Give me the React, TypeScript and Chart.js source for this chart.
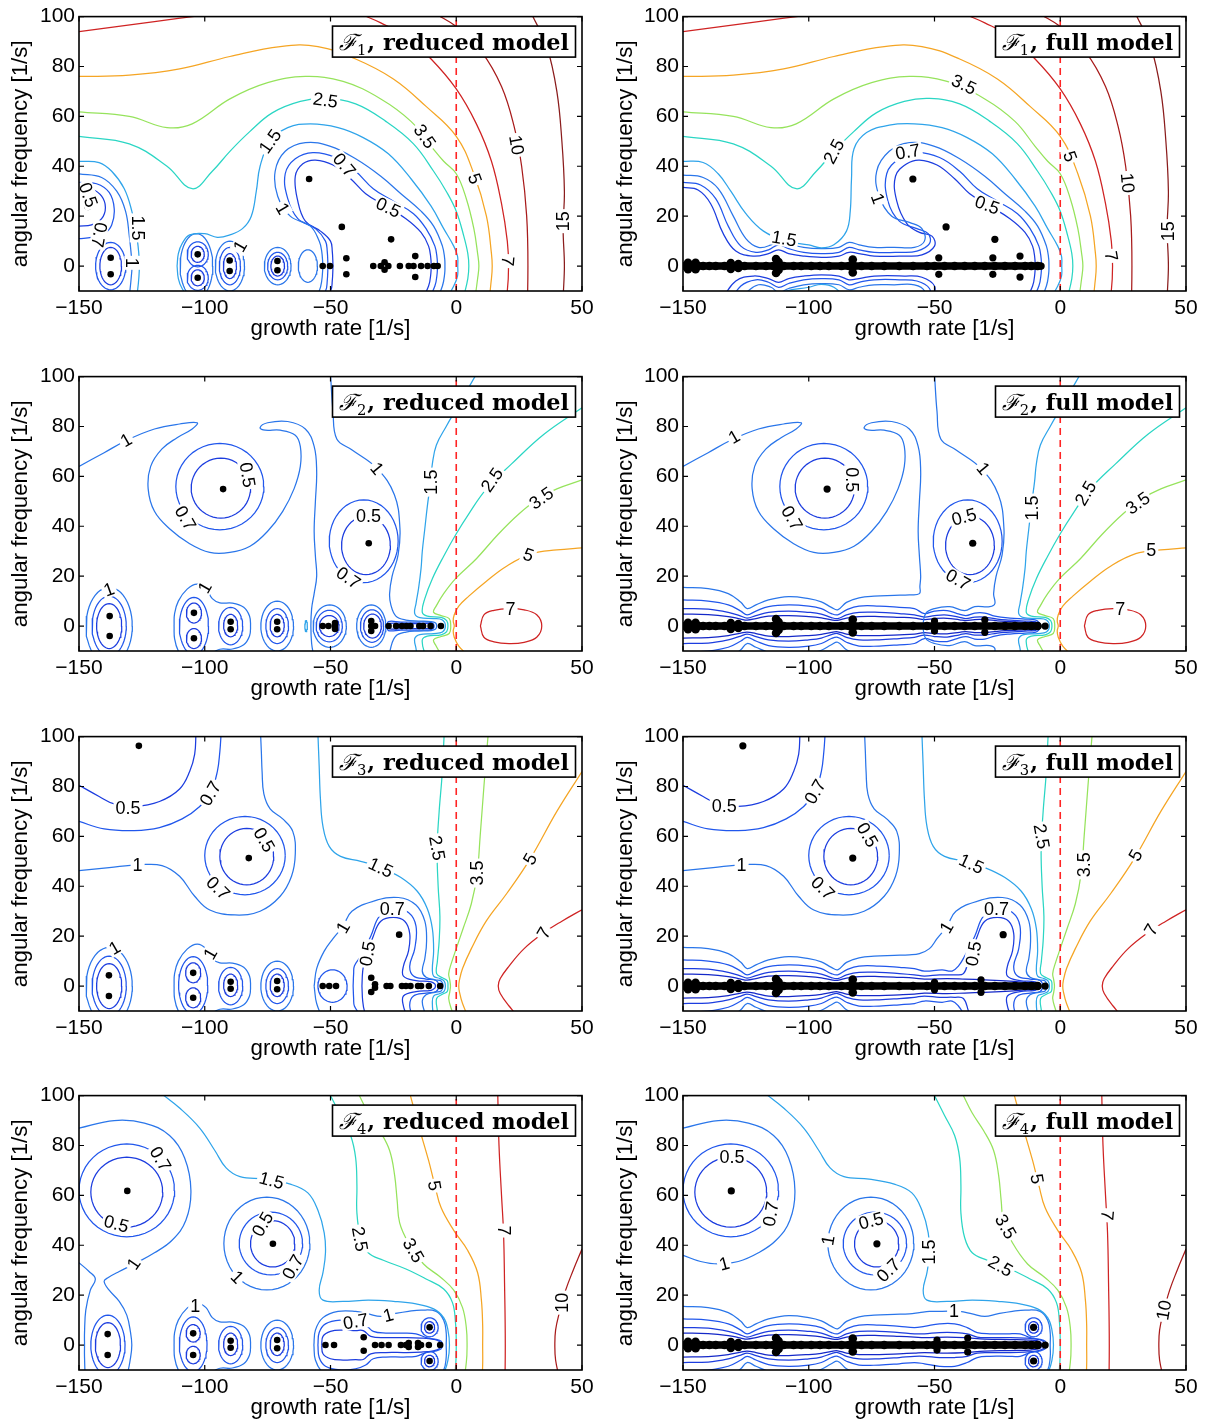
import React, { useEffect, useRef } from "react";
import { Chart, registerables } from "chart.js";
Chart.register(...registerables);

// ---------- axes ----------
const X_TICKS = [-150, -100, -50, 0, 50];
const Y_TICKS = [0, 20, 40, 60, 80, 100];
const X_MIN = -150, X_MAX = 50, Y_MIN = -10, Y_MAX = 100;
const X_TITLE = "growth rate [1/s]";
const Y_TITLE = "angular frequency [1/s]";

// ---------- contour levels ----------
const LEVEL_VALUES = [0.35, 0.5, 0.7, 1, 1.5, 2.5, 3.5, 5, 7, 10, 15];
const LEVEL_COLORS = ["#1428c8", "#1c3ddf", "#2157ec", "#2a76ea", "#2fa4ea", "#2bd6c4", "#96e35c", "#f5a524", "#cf2323", "#a81b1b", "#8a1c1c"];

// line: [level, flat x,y list, symmetry flag (0 none, 1 + mirrored return, 2 + mirror copy, 3 mirror only)]
// oval: [level, cx, cy, rx, ry]   label: [text, x, y, angle]

// ================= F1 =================
const F1_OUTER = [
  [7, [-150, 94, -135, 96, -120, 98, -101, 100.5], 0],
  [7, [-38, 101, -30, 97.5, -20, 92, -10, 83, 0, 71, 8, 57, 14, 42, 18, 25, 20.3, 10, 20.8, 0], 1],
  [10, [-8, 101, 0, 96, 10, 86, 18, 72, 23, 56, 26, 40, 28, 20, 28.5, 0], 1],
  [15, [30, 101, 36, 88, 40, 70, 42, 50, 43, 30, 42.5, 15, 43, 0], 1],
  [5, [-150, 76, -130, 76.5, -110, 79, -90, 84, -70, 88, -55, 88, -40, 83, -25, 75, -12, 64, 0, 52, 7, 37, 12, 20, 14, 5, 14.3, 0], 1],
  [3.5, [-150, 61.8, -130, 60, -115, 55.5, -105, 57, -90, 67, -75, 73.5, -60, 76, -45, 74, -30, 67, -18, 58, -10, 48, -5, 42, 0, 37, 4, 27, 7, 15, 8.5, 5, 9, 0], 1],
  [2.5, [-150, 52, -130, 49, -115, 40, -105, 31, -97, 38, -90, 46, -82, 54, -73, 61.5, -62, 66, -52, 67.2, -40, 65, -28, 58, -17, 49, -9, 38, -4, 30, 0, 22, 3, 12, 4.6, 5, 5, 0], 1],
];
const F1R_LINES = [
  [1.5, [-150, 42, -142, 41.5, -137, 38, -132, 31, -129, 22, -127, 12, -126, 0], 1],
  [1.5, [-111, 0, -110.5, 5, -109, 9, -106, 12.5, -100, 13, -95, 11.5, -90, 12.5, -85, 15, -81.5, 20, -79.5, 30, -78, 40, -74, 50, -67, 55.5, -58, 57, -47, 55.5, -37, 51.5, -27, 45, -18, 35, -10, 24, -5, 15, -1, 8, 0.5, 4, 0.6, 0], 1],
  [1, [-150, 37, -141, 35.5, -135, 30, -131.5, 22, -130, 12, -129, 2, -129, 0], 1],
  [0.7, [-150, 33.5, -143, 33, -138, 29.5, -136, 23, -137, 16.5, -140, 13, -145, 11.5, -150, 11], 0],
  [0.5, [-150, 31.5, -145, 31, -141, 28, -139.5, 23.5, -141, 19, -145, 16.5, -150, 16], 0],
  [1, [-53, 0, -53.5, 6, -54.5, 10, -58, 16, -66, 20, -71, 28, -72, 38, -68, 46, -60, 49.5, -50, 48, -40, 43, -30, 36, -22, 29, -14, 22, -9, 16, -5.5, 8, -4.6, 3, -4.5, 0], 1],
  [0.7, [-51, 0, -51.3, 6, -52, 10, -56, 15, -63, 19, -67, 27, -68, 37, -64, 43, -57, 45.5, -48, 43.5, -40, 38, -33, 31, -25, 26, -17, 21, -12, 15, -8.5, 8, -7.6, 3, -7.5, 0], 1],
  [0.5, [-49, 0, -49.3, 6, -50, 10, -54, 14, -60, 18, -63, 26, -64, 36, -61, 41, -56, 42.5, -49, 40.5, -42, 35, -36, 29, -28, 24, -20, 19, -14, 13.5, -11, 8, -10.1, 3, -10, 0], 1],
];
const F1R_OVALS = [
  [0.7, -137.4, 0, 6, 9.5], [0.5, -137.4, 0, 4.3, 7.5],
  [0.5, -102.8, 4.7, 2.6, 3.2], [0.5, -102.8, -4.7, 2.6, 3.2], [0.7, -102.8, 4.7, 4.2, 5], [0.7, -102.8, -4.7, 4.2, 5], [1, -103.3, 0, 6.5, 13],
  [1, -90, 0, 5.8, 10], [0.7, -90, 0, 4.2, 7.5], [0.5, -90, 0, 2.6, 5],
  [1, -71, 0, 5.3, 7.5], [0.7, -71, 0, 4, 5.5], [0.5, -71, 0, 2.7, 4],
  [1, -59, 0, 3.8, 6.5],
];
const F1R_LABELS = [
  ["2.5", -52, 66.5, 8], ["3.5", -12.5, 52, 55], ["5", 7.4, 35, 70], ["7", 20.5, 2, 95], ["10", 24, 48.5, 80], ["15", 42.6, 18, -90],
  ["1.5", -74, 50, -55], ["0.7", -44.5, 40.5, 50], ["0.5", -27, 23.5, 25], ["1", -69, 23, 60],
  ["0.5", -146.3, 28.5, 70], ["0.7", -142, 12.5, 100], ["1.5", -126.7, 15.3, 90], ["1", -128.8, 1.3, 90], ["1", -86, 8, -60],
];
const F1R_DOTS = [-146.5, 23.7, -137.4, 3.3, -137.4, -3.3, -102.8, 4.7, -102.8, -4.7, -90.1, 2.2, -90.1, -2, -71.1, 2, -71.1, -1.7,
  -58.5, 34.9, -45.5, 15.7, -43.7, 3.1, -43.7, -3.3, -25.9, 10.7, -16.3, 4, -16.3, -4.4,
  -53.1, 0, -50.2, 0, -33, 0, -30, 0, -28.5, 1.5, -28.5, -1.5, -27, 0, -22.4, 0, -18.9, 0, -17, 0, -14, 0, -11.4, 0, -8.9, 0, -7.4, 0];

const F1F_LINES = [
  [1.5, [-150, 42, -142, 41.5, -136, 37, -131, 30, -125, 21, -118, 14, -109, 10, -100, 8.5, -95, 7.3, -90, 8.5, -85, 14, -83.5, 22, -83, 35, -82, 47, -77, 53.5, -68, 56.5, -58, 57, -47, 55.5, -37, 51.5, -27, 45, -18, 35, -10, 24, -5, 15, -1, 8, 0.5, 4, 0.6, 0], 1],
  [1, [-150, 36.5, -142, 35.5, -136, 31, -130, 20, -125, 11, -120, 7.5, -115, 8.5, -112, 10.5, -108, 9, -102, 7.5, -95, 7, -88, 7.5, -84, 9.5, -80, 8.5, -74, 7.5, -66, 7.5, -58, 7.5, -54, 10, -55, 15, -60, 17.5, -67, 20, -72, 28, -73, 38, -68, 46, -60, 49.5, -50, 48, -40, 43, -30, 36, -22, 29, -14, 22, -9, 16, -5.5, 8, -4.6, 3, -4.5, 0], 1],
  [0.7, [-150, 33.5, -143, 32.5, -137, 27, -132, 16, -127, 8, -121, 5.5, -116, 6.5, -112, 8.5, -108, 7, -102, 5.5, -95, 5, -88, 5.5, -84, 7.5, -80, 6.5, -74, 5.5, -64, 5.5, -57, 6, -52, 9, -52.5, 13, -57, 15, -64, 18, -68.5, 26, -69, 37, -64, 43, -57, 45.5, -48, 43.5, -40, 38, -33, 31, -25, 26, -17, 21, -12, 15, -8.5, 8, -7.6, 3, -7.5, 0], 1],
  [0.5, [-150, 31.5, -144, 30.5, -139, 25, -134, 13, -129, 6, -122, 4, -116, 5, -112, 6.5, -108, 5, -102, 4, -95, 3.5, -88, 4, -84, 5.5, -80, 5, -74, 4, -62, 4, -55, 4.5, -50, 8, -51, 12, -56, 13.5, -61, 17, -65, 26, -65.5, 36, -61, 41, -56, 42.5, -49, 40.5, -42, 35, -36, 29, -28, 24, -20, 19, -14, 13.5, -11, 8, -10.1, 3, -10, 0], 1],
];
const F1F_LABELS = [
  ["3.5", -38.3, 72.8, 25], ["2.5", -90, 46, -62], ["5", 3.9, 44, 70], ["10", 26.8, 33.3, 85], ["15", 43, 14, -90], ["7", 20.3, 4, 80],
  ["0.7", -60.6, 45.8, -10], ["1", -72.5, 27, 70], ["0.5", -29, 24.5, 20], ["1.5", -109.8, 11, 10],
];
const F1F_DOTS = [-58.6, 34.9, -45.4, 15.7, -48.3, 3.3, -48.3, -3.3, -26, 10.7, -26.8, 3.3, -26.8, -3.3, -16, 4, -16, -4.4, -7.6, 0];

// ================= full-model band (shared by F2..F4 full) =================
const L1_BAND = [-150, 15.5, -140, 15, -132, 13, -127, 9.5, -124.5, 7, -121, 8.5, -116, 10.5, -108, 11.8, -100, 11, -95, 9.7, -91, 7.5, -88.5, 6.5, -85, 9.5, -80, 11.3, -74, 12, -66, 12.3, -60, 12.5, -56, 13];
const L07_BAND = [-150, 10.5, -140, 10, -132, 8.5, -127, 6, -124.5, 4.5, -121, 6, -116, 7.8, -108, 8.5, -100, 8, -95, 7, -91, 5, -88.5, 4.5, -85, 6.5, -80, 8, -72, 8, -64, 7.5, -58, 7];
const L05_BAND = [-150, 7, -140, 6.8, -132, 5.5, -127, 4, -124.5, 3.2, -121, 4.2, -116, 5.5, -108, 6, -100, 5.5, -95, 4.8, -91, 3.4, -88.5, 3, -85, 4.5, -80, 5.5, -72, 5.5, -64, 5, -58, 4.5];
const L035_BAND = [-150, 4.8, -140, 4.6, -132, 3.8, -127, 2.8, -124.5, 2.4, -121, 3, -116, 4, -108, 4.2, -100, 3.8, -95, 3.3, -91, 2.5, -88.5, 2.3, -85, 3.2, -80, 3.8, -72, 3.8, -64, 3.5, -58, 3.2];
const FULL_AXIS_DOTS = [-149, 0, -147.5, 0, -146, 0, -144, 0, -142, 0, -139.5, 0, -137, 0, -133.5, 0, -131, 0, -128, 0, -125.5, 0, -121, 0, -117, 0, -114, 0, -112, 0, -110, 0, -106, 0, -103, 0, -99, 0, -95.5, 0, -92, 0, -87, 0, -84, 0, -82, 0, -79, 0, -75, 0, -70, 0, -64, 0, -58.5, 0, -53, 0, -50, 0, -46, 0, -42, 0, -38, 0, -34, 0, -30, 0, -26, 0, -22, 0, -18, 0, -14, 0, -11.5, 0, -9, 0,
  -148, 1.3, -148, -1.3, -145, 1.3, -145, -1.3, -131, 1.2, -131, -1.2, -128, 0.8, -128, -0.8, -113, 2.8, -113, -2.8, -112, 1.6, -112, -1.6, -82.5, 2.6, -82.5, -2.6];

// ================= shared left clusters (reduced F2..F4) =================
const PAIR_ENVELOPE = [-112.2, 0, -112, 5, -110.5, 10, -107, 14.8, -103, 16.8, -99.5, 15, -97, 11, -94, 9.3, -89, 9.2, -84.5, 7.5, -82.2, 4, -81.8, 0];

// ================= F2 =================
const F2_CRESCENT = [-150, 64, -140, 69.5, -131, 74.5, -120, 79, -110, 81, -103, 81.5, -105, 79, -111, 75.5, -117, 71, -121.5, 64, -122.5, 55, -120, 46, -114, 39, -106, 33, -98, 29.5, -90, 29.5, -82, 32, -75, 38, -69, 46, -64.5, 55, -62, 64, -62, 72, -64, 76.5, -70, 78.5, -76, 78.5, -78, 79.5, -75, 81.5, -67, 82, -60, 79, -56.5, 72, -55.5, 62, -56, 50, -56.5, 38, -56, 28, -55.5, 20];
const F2_RIGHT_BRANCH = [-50, 101, -49, 86, -47.5, 75, -41.4, 70.6, -31.5, 63.2, -24.6, 52.6, -22.4, 39.3, -23.1, 28.6, -25.5, 20, -26.5, 13];
const F2_UPPER = [
  [1.5, [8, 101, 4, 94, 0, 87, -4, 80, -7.9, 72.6, -9.5, 65, -10.2, 58, -11.5, 48, -12.5, 39, -13.5, 30, -14, 23, -15, 15, -16, 9, -16.5, 5, -14.5, 3.4, -9, 3, -5.5, 2.4, -4.3, 0], 1],
  [2.5, [50, 87.5, 35, 77, 22, 65, 12, 55, 5, 45, 0, 37, -5, 28, -9.5, 19, -12.5, 11, -13.5, 5.5, -11.5, 4, -6, 3.5, -3.8, 2.2, -3.3, 0], 1],
  [3.5, [50, 58.6, 40, 55, 33, 51.3, 25, 45, 16.5, 36.6, 8, 27, 0, 19.3, -5, 13, -8, 8, -9, 5.5, -6, 4.2, -2.8, 3, -2.2, 0], 1],
  [5, [50, 31.3, 40, 30.5, 30, 29, 20, 24, 12, 18, 5, 12, 1, 8, -0.8, 4.5, -1.2, 2, -0.8, 0], 1],
  [7, [9.6, 0, 11, 4.5, 15, 6.3, 21, 7, 27, 6.5, 32, 4.5, 34, 0], 1],
];
const F2_OVALS = [[0.5, -93.6, 55.3, 11.8, 12], [0.7, -94, 55.9, 17.5, 17.3], [0.5, -35.9, 32.3, 9.7, 11.7], [0.7, -36.8, 34, 13.7, 16.6]];
const F2R_LINES = [
  [1, F2_CRESCENT.concat([-56.5, 13, -57.5, 7, -57.8, 0]), 1],
  [1, F2_RIGHT_BRANCH.concat([-26, 8.5, -24, 4, -20, 2.4, -15, 2, -10, 1.8, -8.2, 1.2, -7.8, 0]), 1],
  [1, PAIR_ENVELOPE, 1],
  [0.7, [-27.5, 0, -27, 1.8, -22, 1.6, -15, 1.6, -10, 1.4, -8.8, 0], 1],
  [0.5, [-27, 0, -26.5, 1.1, -20, 1, -14, 1, -10, 0.9, -9.4, 0], 1],
];
const F2R_OVALS = [
  [1, -138, 0, 9.2, 15.5], [0.7, -138, 0, 6.8, 12], [0.5, -138, 0, 5, 9],
  [0.5, -104.3, 5.2, 3, 4], [0.5, -104.3, -5, 3, 4], [0.7, -104.3, 0, 5.8, 11.5],
  [0.5, -89.7, 0.2, 2.8, 4.5], [0.7, -89.7, 0, 4.8, 7.5],
  [1, -71.2, 0, 6.5, 10], [0.7, -71.2, 0, 4.5, 7], [0.5, -71.2, 0.2, 2.8, 4.5],
  [1.5, -59.7, 0, 0.5, 2.2],
  [1, -50.3, 0, 6.6, 8.5], [0.7, -50.5, 0, 5.2, 6.3], [0.5, -50.5, 0, 3.9, 4.2],
  [1, -33.8, 0, 5.8, 8.5], [0.7, -33.5, 0, 4.6, 6.5], [0.5, -33.3, 0, 3.5, 4.8],
];
const F2R_LABELS = [
  ["1", -131.3, 74.6, -30], ["0.5", -83, 60.6, 80], ["0.7", -107.7, 43.3, 60], ["0.5", -34.9, 44, 0], ["0.7", -42.9, 19.3, 35], ["1", -31.5, 63.2, 50],
  ["1.5", -10.2, 57.7, -90], ["2.5", 14.2, 58.6, -55], ["3.5", 33.8, 51.3, -35], ["5", 28.7, 28.5, 20], ["7", 21.6, 7, 0],
  ["1", -138.1, 14.7, -20], ["1", -100, 15.5, -60],
];
const F2R_DOTS = [-137.8, 4, -137.8, -4, -104.3, 5.3, -104.3, -4.9, -89.7, 1.7, -89.7, -1.3, -71.2, 1.7, -71.2, -1.3, -92.7, 54.9, -34.8, 33.2,
  -53.1, 0, -50.8, 0, -48.2, 0, -48.2, 1.2, -48.2, -1.2, -33.8, 2, -33.8, 0, -33.8, -2, -32.3, 0, -26.9, 0, -23.9, 0, -21.6, 0, -19.8, 0, -18.2, 0, -14.7, 0, -13.2, 0, -10.2, 0, -6.1, 0];

const F2F_T07 = [-54, 5, -50, 6, -45, 6.2, -41, 5, -37.5, 4.2, -34, 5.2, -30, 5.2, -26, 4, -20, 3.2, -14, 2.8, -10, 2.5, -8.5, 1.5, -8.2, 0];
const F2F_T05 = [-54, 3.6, -50, 4.2, -45, 4.4, -40, 3.5, -37.5, 3, -34, 3.6, -30, 3.6, -25, 2.8, -20, 2.4, -14, 2, -10, 1.8, -9, 1, -8.8, 0];
const F2F_T035 = [-54, 2.6, -50, 3, -45, 3.1, -40, 2.5, -37.5, 2.2, -34, 2.6, -30, 2.6, -25, 2.1, -20, 1.8, -14, 1.5, -10, 1.3, -9.3, 0];
const F2F_LABELS = [
  ["1", -129.7, 75.9, -30], ["0.5", -82.9, 58.6, 90], ["0.7", -106.7, 43.3, 60], ["0.5", -38.3, 43.8, -15], ["0.7", -40.6, 18.6, 30], ["1", -30.6, 63.2, 50],
  ["1.5", -11.4, 47.3, -90], ["2.5", 10.1, 53.3, -60], ["3.5", 30.8, 49.3, -35], ["5", 36.2, 30.3, 0], ["7", 23.9, 7, 0],
];
const F2F_DOTS = [-92.7, 54.9, -34.8, 33.2, -50, 2, -50, -2, -30, 2.5, -30, -2.5, -6, 0];

// ================= F3 =================
const F3_UPPER = [
  [0.5, [-150, 80.5, -142, 76, -136, 73, -128, 72, -118, 74, -110, 79, -106, 86, -104, 93, -103.5, 101], 0],
  [0.7, [-150, 66, -140, 63, -128, 62.3, -118, 63.5, -109, 67, -102, 72, -97.5, 78, -95, 86, -94, 94, -93.5, 101], 0],
  [1, [-150, 46.3, -138, 47.5, -126, 48.6, -117, 48.3, -110, 44, -104, 36, -98, 30.5, -88, 28.5, -78, 30, -70, 36, -65.5, 44, -64, 53, -65, 62, -69, 67, -74, 71, -76.5, 77, -77.2, 86, -77.5, 94, -77.8, 101], 0],
  [1.5, [-55, 101, -54.5, 88, -54, 75, -53, 64, -50.5, 56, -46, 52, -38, 50, -30, 47.5, -22, 43.5, -15.5, 38, -11.5, 31, -9.5, 23, -9, 14, -9.5, 7, -9, 4, -6.5, 3, -4.8, 2, -4.3, 0], 1],
  [2.5, [-4.8, 101, -5.6, 85, -6.8, 70, -7.6, 55, -7.2, 40, -6.5, 28, -6.8, 18, -7.5, 10, -7.8, 5, -5.5, 3.3, -3.6, 2.2, -3.3, 0], 1],
  [3.5, [12.7, 101, 11, 80, 9.5, 60, 8.3, 45, 6, 33, 2.7, 23, 0, 15, -2, 9, -3, 5, -2.6, 2.5, -2.3, 0], 1],
  [5, [50, 86, 40, 70, 29.4, 51, 20, 37, 11.9, 26, 6, 15, 2.5, 7, 1.2, 2, 1, 0], 1],
  [7, [50, 30.6, 42, 26, 35, 21.5, 27, 15, 21, 8, 17.5, 3, 16.7, 0], 1],
];
const F3_OVALS = [[0.5, -83.3, 51.9, 10.7, 11.3], [0.7, -84, 52.3, 16, 15.7]];
const F3_RIGHT_1 = [-49, 19, -45, 24, -41.5, 30, -33, 34, -23, 35.5, -16, 32.5, -12.5, 26, -11.8, 18, -12.5, 11, -13.5, 6, -12, 3.5, -8.5, 2.5, -6, 2, -5.3, 0];
const F3_RIGHT_07 = [-40.5, 8, -38, 12, -34, 20, -30.5, 28, -25, 31, -19, 29.5, -16, 24, -16.5, 15, -18.5, 8, -17, 4, -12, 2.8, -8, 2.2, -7, 0];
const F3_RIGHT_05 = [-36.5, 10, -33, 20, -30, 26, -25, 27.5, -20.5, 26, -18.5, 21, -19, 14, -21, 8, -21, 4, -16, 2.2, -10, 1.7, -8.5, 0.8, -8.3, 0];
const F3R_LINES = [
  [1, [-56.5, 0, -55.5, 7, -52.5, 14].concat(F3_RIGHT_1), 1],
  [0.7, [-41, 0, -40.8, 5].concat(F3_RIGHT_07), 1],
  [0.5, [-37.5, 0, -37.2, 6].concat(F3_RIGHT_05), 1],
  [1, PAIR_ENVELOPE, 1],
];
const F3R_OVALS = [
  [1, -138, 0, 9.2, 15.5], [0.7, -138, 0, 6.8, 12], [0.5, -138, 0, 5, 9],
  [0.5, -104.6, 5.3, 3, 4], [0.5, -104.6, -4.7, 3, 4], [0.7, -104.6, 0.3, 5.8, 11.5],
  [0.5, -89.7, 0.3, 2.8, 4.5], [0.7, -89.7, 0, 4.8, 7.5],
  [1, -71.2, 0, 6.5, 10], [0.7, -71.2, 0, 4.5, 7], [0.5, -71.2, 0.3, 2.8, 4.5],
  [0.7, -49.2, 0, 5.8, 6.5],
];
const F3R_LABELS = [
  ["0.5", -130.5, 71.5, 0], ["0.7", -97.8, 77.2, -60], ["0.5", -76.4, 58.6, 60], ["1", -126.7, 48.6, 0], ["0.7", -94.7, 39.3, 45],
  ["1.5", -30, 47.5, 25], ["2.5", -7.6, 55.3, 80], ["3.5", 8.3, 45.3, -90], ["5", 29.4, 51, -60], ["7", 34.8, 21.3, -60],
  ["1", -135.8, 15.3, -30], ["1", -97.8, 13, -60], ["1", -45, 23.5, -60], ["0.7", -25.4, 31, 0], ["0.5", -35.3, 13, -80],
];
const F3R_DOTS = [-126.2, 96.3, -82.5, 51.3, -138.1, 4.3, -138.1, -4, -104.6, 5.3, -104.6, -4.7, -89.7, 1.7, -89.7, -1.1, -71.2, 2, -71.2, -1.3, -22.7, 20.6,
  -53.1, 0, -50.5, 0, -47.8, 0, -33.8, 3.3, -33.8, -2.4, -32.3, 0.7, -32.3, -0.7, -27.7, 0, -26.2, 0, -21.6, 0, -20, 0, -18.2, 0, -15.2, 0, -14, 0, -10.9, 0, -6.4, 0];
const F3F_LABELS = [
  ["0.5", -133.6, 72, 0], ["0.7", -97.5, 77.9, -60], ["0.5", -76.7, 60.6, 60], ["1", -126.7, 48.6, 0], ["0.7", -94.4, 39.3, 45],
  ["1.5", -35.3, 49, 25], ["2.5", -7.4, 60, 80], ["3.5", 9.3, 48.6, -90], ["5", 30, 52.5, -60], ["7", 36.1, 22.6, -60],
  ["0.7", -25.3, 31, 0], ["1", -45.2, 23.5, -60], ["0.5", -34.5, 13, -80],
];
const F3F_DOTS = [-126.2, 96.3, -82.5, 51.3, -22.7, 20.6, -50, 1.5, -50, -1.5, -31.5, 2.5, -31.5, -2.5, -6, 0];

// ================= F4 =================
const F4_UPPER = [
  [1.5, [-117.5, 101, -110, 95, -102, 87, -96, 78, -91.5, 71, -86, 67.5, -76, 66.5, -66, 64.5, -59, 61, -55, 54, -52.5, 45, -52, 37, -53, 29, -54.5, 22, -53, 18, -45, 17.5, -35, 18, -25, 17.5, -16, 16.5, -9, 14.5, -5, 11, -3.3, 6, -2.7, 0], 1],
  [2.5, [-50.5, 101, -46, 92, -42, 84, -40, 75, -39.5, 64, -39.5, 53, -38, 43, -35, 37, -29, 34, -20, 30.5, -12, 26.5, -5, 22.5, -1.5, 17, -0.3, 9, 0, 0], 1],
  [3.5, [-39, 101, -35, 93, -30.5, 86, -26.5, 78, -24.5, 68, -23.5, 58, -22.5, 49, -19, 41, -13, 32.5, -6, 27, -1, 22, 2.5, 15, 4, 7, 4.3, 0], 1],
  [5, [-18.5, 101, -15, 88, -11, 74, -8.5, 64, -6, 55, -1, 46, 4.5, 38, 8.5, 29, 10, 18, 10.5, 8, 10.5, 0], 1],
  [7, [16.5, 101, 17, 80, 18, 60, 18.8, 45, 19.2, 25, 19.5, 0], 1],
  [10, [50, 38.5, 46.5, 30, 43.5, 22, 41, 13, 39.5, 6, 39.2, 0], 1],
];
const F4_OVALS = [[0.5, -131, 61.3, 14.3, 14], [0.7, -131, 62, 19, 18.6], [0.5, -73, 40.6, 8.8, 9.3], [0.7, -73.7, 40.7, 12.6, 12.6], [1, -75.3, 40.7, 17.1, 18.6],
  [0.5, -10.6, 7.1, 2, 2.3], [0.5, -10.6, -6.4, 2, 2.3], [0.7, -10.6, 7.1, 3.4, 3.8], [0.7, -10.6, -6.4, 3.4, 3.8]];
const F4_RIGHT_1 = [-47, 13.5, -40, 13.5, -35, 12.5, -30, 11.5, -25, 12.5, -19, 13.5, -14, 14, -8, 13.5, -5, 10, -4, 5, -4, 0];
const F4_RIGHT_07 = [-46, 10, -40, 9.5, -36, 8, -33, 5.5, -28, 4.8, -21, 4.8, -16, 4.5, -12, 3, -8, 2.3, -6, 1.5, -5.5, 0];
const F4_RIGHT_05 = [-45, 6, -40, 5.8, -37, 5.8, -34, 3.5, -28, 3, -20, 3, -14, 2.8, -9, 2.3, -6.8, 1.5, -6.5, 0];
const F4R_LINES = [
  [1, [-150, 87, -136, 90, -124, 89, -114, 84, -108, 75, -105.5, 62, -107.5, 50, -113, 42, -120, 37, -128, 32.5, -134, 29.5, -138.5, 27, -140, 25.5, -138, 22, -134, 17.5, -131, 12, -129.5, 5, -129, 0], 1],
  [1, [-150, 33, -146, 29.5, -143.5, 26.5, -145.5, 22, -147.3, 14, -147.8, 5, -147.8, 0], 1],
  [1, [-56.6, 0, -56, 6, -53, 11].concat(F4_RIGHT_1), 1],
  [0.7, [-55, 0, -54.5, 5, -52, 8.5].concat(F4_RIGHT_07), 1],
  [0.5, [-53.5, 0, -53, 3.5, -50, 5.5].concat(F4_RIGHT_05), 1],
  [1, PAIR_ENVELOPE, 1],
];
const F4R_OVALS = [
  [0.7, -138.5, 0, 6.8, 12], [0.5, -138.5, 0, 5, 9],
  [0.5, -104.6, 4.7, 2.8, 3.5], [0.5, -104.6, -4, 2.8, 3.5], [0.7, -104.6, 0.3, 5.5, 11],
  [0.5, -89.7, 0.3, 2.8, 4.5], [0.7, -89.7, 0, 4.8, 7.5],
  [1, -71.2, 0, 6.5, 10], [0.7, -71.2, 0, 4.5, 7], [0.5, -71.2, 0.3, 2.8, 4.5],
];
const F4R_LABELS = [
  ["0.7", -117.6, 74.6, 60], ["0.5", -135.1, 48.6, 15], ["1", -128.2, 32.6, -55], ["1.5", -73.4, 66, 15],
  ["0.5", -77, 48.5, -60], ["0.7", -65, 31.3, -60], ["1", -87.1, 27.3, 45],
  ["2.5", -38.3, 42.5, 80], ["3.5", -17, 38, 60], ["5", -8.6, 63.9, 80], ["7", 18.8, 45.9, 90], ["10", 42, 17, -90],
  ["0.7", -40, 9.5, -10], ["1", -27, 12, -15], ["1", -103.8, 15.5, 0],
];
const F4R_DOTS = [-130.8, 61.8, -72.9, 40.6, -138.6, 4.4, -138.6, -4, -104.6, 4.7, -104.6, -4, -89.7, 1.7, -89.7, -1.1, -71.2, 2, -71.2, -1.3, -10.6, 7.1, -10.6, -6.4, -36.8, 3.1, -36.8, -2.3,
  -52, 0, -48.6, 0, -32.3, 0, -29.7, 0, -26.9, 0, -22, 0, -20, 0, -18.9, 0.8, -18.9, -0.8, -15.2, 0.8, -15.2, -0.8, -14, 0, -10.9, 0, -6.4, 0];
const F4F_LABELS = [
  ["0.5", -130.5, 75.3, 0], ["0.7", -115.1, 52.6, -80], ["1", -133.6, 32.6, -15], ["0.5", -75.2, 49.8, -15], ["1", -92.3, 42, -80], ["0.7", -68.3, 30, -45],
  ["1.5", -52.2, 37.3, -90], ["3.5", -21.7, 47.5, 60], ["2.5", -23.7, 31.7, 30], ["5", -9.2, 66.6, 80], ["7", 18.7, 52, 95], ["10", 41.2, 14, -80],
  ["1", -42.2, 13.5, 0],
];
const F4F_DOTS = [-130.8, 61.8, -72.9, 40.6, -10.6, 7.1, -10.6, -6.4, -49, 2, -49, -2, -36.8, 2.8, -36.8, -2.8, -6, 0];

// ---------- helpers ----------
function revPairs(f) { const o = []; for (let i = f.length - 2; i >= 0; i -= 2) o.push(f[i], f[i + 1]); return o; }
function toPts(f) { const p = []; for (let i = 0; i < f.length; i += 2) p.push({ x: f[i], y: f[i + 1] }); return p; }
function mirror(p) { return p.map((q) => ({ x: q.x, y: -q.y })); }
function expandLine(flat, sym) {
  const p = toPts(flat);
  if (sym === 1) return [p.concat(mirror(p).reverse().slice(1))];
  if (sym === 2) return [p, mirror(p)];
  if (sym === 3) return [mirror(p)];
  return [p];
}
function ovalPts(cx, cy, rx, ry) {
  const p = [];
  for (let k = 0; k <= 48; k++) { const t = (k / 48) * Math.PI * 2; p.push({ x: cx + rx * Math.cos(t), y: cy + ry * Math.sin(t) }); }
  return p;
}
function colorOf(level) { const i = LEVEL_VALUES.indexOf(level); return LEVEL_COLORS[i < 0 ? 3 : i]; }

// ---------- panels ----------
const PANELS = [
  { n: "1", model: "reduced model", col: 0, row: 0, lines: F1_OUTER.concat(F1R_LINES), ovals: F1R_OVALS, labels: F1R_LABELS, dots: F1R_DOTS, full: false, barEnd: 0 },
  { n: "1", model: "full model", col: 1, row: 0, lines: F1_OUTER.concat(F1F_LINES), ovals: [], labels: F1F_LABELS, dots: F1F_DOTS, full: true, barEnd: -8 },
  { n: "2", model: "reduced model", col: 0, row: 1, lines: F2_UPPER.concat(F2R_LINES), ovals: F2_OVALS.concat(F2R_OVALS), labels: F2R_LABELS, dots: F2R_DOTS, full: false, barEnd: 0 },
  { n: "2", model: "full model", col: 1, row: 1,
    lines: F2_UPPER.concat([
      [1, F2_CRESCENT.concat([-55.8, 16]).concat(revPairs(L1_BAND)), 0],
      [1, L1_BAND, 3],
      [1, F2_RIGHT_BRANCH.concat([-26, 9, -28, 7.8, -34, 7.8, -38, 6.2, -44, 7.8, -50, 7, -53.5, 5, -54.5, 0]), 1],
      [0.7, L07_BAND.concat(F2F_T07), 1], [0.5, L05_BAND.concat(F2F_T05), 1], [0.35, L035_BAND.concat(F2F_T035), 1],
    ]),
    ovals: F2_OVALS, labels: F2F_LABELS, dots: F2F_DOTS, full: true, barEnd: -9 },
  { n: "3", model: "reduced model", col: 0, row: 2, lines: F3_UPPER.concat(F3R_LINES), ovals: F3_OVALS.concat(F3R_OVALS), labels: F3R_LABELS, dots: F3R_DOTS, full: false, barEnd: 0 },
  { n: "3", model: "full model", col: 1, row: 2,
    lines: F3_UPPER.concat([
      [1, L1_BAND.concat([-52, 15]).concat(F3_RIGHT_1), 1],
      [0.7, L07_BAND.concat([-54, 6, -47, 6.5, -43, 6]).concat(F3_RIGHT_07), 1],
      [0.5, L05_BAND.concat([-54, 4, -48, 4.5, -42, 4.5, -38.5, 5]).concat(F3_RIGHT_05), 1],
      [0.35, L035_BAND.concat([-54, 2.8, -45, 3, -38, 2.8, -30, 2.5, -20, 2, -14, 1.5, -10, 1.2, -9.3, 0]), 1],
    ]),
    ovals: F3_OVALS, labels: F3F_LABELS, dots: F3F_DOTS, full: true, barEnd: -9 },
  { n: "4", model: "reduced model", col: 0, row: 3, lines: F4_UPPER.concat(F4R_LINES), ovals: F4_OVALS.concat(F4R_OVALS), labels: F4R_LABELS, dots: F4R_DOTS, full: false, barEnd: 0 },
  { n: "4", model: "full model", col: 1, row: 3,
    lines: F4_UPPER.concat([
      [1, [-150, 87, -136, 90, -124, 89, -114, 84, -108, 75, -105.5, 62, -107.5, 50, -113, 42, -120, 37, -128, 33.5, -136, 32.5, -143, 33.5, -150, 36], 0],
      [1, L1_BAND.concat([-52, 13.5]).concat(F4_RIGHT_1), 1],
      [0.7, L07_BAND.concat([-54, 7.5, -48, 8.5, -42, 8.5, -37, 7, -33, 5, -28, 4.5, -21, 4.5, -16, 4.5, -12, 3, -8, 2.3, -6, 1.5, -5.5, 0]), 1],
      [0.5, L05_BAND.concat([-54, 4.5, -48, 5, -42, 5, -37, 4.5, -33, 3.2, -28, 3, -20, 3, -14, 2.8, -9, 2.3, -6.8, 1.5, -6.5, 0]), 1],
      [0.35, L035_BAND.concat([-54, 3, -45, 3.2, -38, 3, -30, 2.4, -20, 2.2, -12, 2, -8, 1.3, -7.5, 0]), 1],
    ]),
    ovals: F4_OVALS, labels: F4F_LABELS, dots: F4F_DOTS, full: true, barEnd: -9 },
];

const SANS = '"Liberation Sans", Arial, Helvetica, sans-serif';
const TICK_SIZE = 21;
const TITLE_SIZE = 22.3;
const CANVAS_W = 605, CANVAS_H = 360;
const ROW_TOPS = [0, 360, 719.5, 1079];

function fmtTick(v) { return v < 0 ? "\u2212" + Math.abs(v) : String(v); }

function buildConfig(p) {
  const datasets = [];
  const dotRadius = p.full ? 3.6 : 3.3;
  datasets.push({ data: toPts(p.dots), showLine: false, pointRadius: dotRadius, pointBackgroundColor: "#000", pointBorderWidth: 0, pointHoverRadius: dotRadius });
  if (p.full) {
    datasets.push({ data: toPts(FULL_AXIS_DOTS), showLine: false, pointRadius: 4.3, pointBackgroundColor: "#000", pointBorderWidth: 0 });
    datasets.push({ data: toPts([-150, 0, p.barEnd, 0]), showLine: true, pointRadius: 0, borderColor: "#000", borderWidth: 7.5, borderCapStyle: "round" });
  }
  datasets.push({ data: toPts([0, Y_MIN, 0, Y_MAX]), showLine: true, pointRadius: 0, borderColor: "#ff2424", borderWidth: 1.6, borderDash: [7, 5] });
  for (const [lev, flat, sym] of p.lines) {
    for (const pts of expandLine(flat, sym)) {
      datasets.push({ data: pts, showLine: true, pointRadius: 0, borderColor: colorOf(lev), borderWidth: 1.25, tension: 0.4 });
    }
  }
  for (const [lev, cx, cy, rx, ry] of p.ovals) {
    datasets.push({ data: ovalPts(cx, cy, rx, ry), showLine: true, pointRadius: 0, borderColor: colorOf(lev), borderWidth: 1.25, tension: 0 });
  }
  const isLeft = p.col === 0;
  const overlay = {
    id: "overlay" + p.n + p.col,
    afterDatasetsDraw(chart) {
      const { ctx, chartArea: a, scales } = chart;
      const xs = scales.x, ys = scales.y;
      ctx.save();
      ctx.beginPath(); ctx.rect(a.left, a.top, a.right - a.left, a.bottom - a.top); ctx.clip();
      ctx.font = "18px " + SANS;
      ctx.textAlign = "center"; ctx.textBaseline = "middle";
      for (const [t, vx, vy, ang] of p.labels) {
        const px = xs.getPixelForValue(vx), py = ys.getPixelForValue(vy);
        ctx.save(); ctx.translate(px, py); ctx.rotate((ang * Math.PI) / 180);
        const w = ctx.measureText(t).width;
        ctx.fillStyle = "#fff"; ctx.fillRect(-w / 2 - 2, -8, w + 4, 16);
        ctx.fillStyle = "#000"; ctx.fillText(t, 0, 1);
        ctx.restore();
      }
      ctx.restore();
    },
    afterDraw(chart) {
      const { ctx, chartArea: a, scales } = chart;
      const xs = scales.x, ys = scales.y;
      ctx.save();
      ctx.strokeStyle = "#000"; ctx.lineWidth = 1.6;
      ctx.strokeRect(a.left, a.top, a.right - a.left, a.bottom - a.top);
      ctx.lineWidth = 1.2;
      ctx.beginPath();
      for (const v of X_TICKS) { const px = xs.getPixelForValue(v); ctx.moveTo(px, a.bottom); ctx.lineTo(px, a.bottom - 5); ctx.moveTo(px, a.top); ctx.lineTo(px, a.top + 5); }
      for (const v of Y_TICKS) { const py = ys.getPixelForValue(v); ctx.moveTo(a.left, py); ctx.lineTo(a.left + 5, py); ctx.moveTo(a.right, py); ctx.lineTo(a.right - 5, py); }
      ctx.stroke();
      // title box
      const boxW = p.model === "full model" ? 184 : 243, boxH = 31;
      const right = a.right - 6.5, top = a.top + 9.5, left = right - boxW;
      ctx.fillStyle = "#fff"; ctx.fillRect(left, top, boxW, boxH);
      ctx.lineWidth = 1.6; ctx.strokeRect(left, top, boxW, boxH);
      const base = 24;
      const fF = (s) => `italic ${s}px "DejaVu Serif", serif`;
      const fSub = (s) => `${s * 0.66}px "DejaVu Serif", serif`;
      const fMain = (s) => `bold ${s}px "DejaVu Serif", serif`;
      const rest = ", " + p.model;
      const measure = (s) => {
        ctx.font = fF(s); const w1 = ctx.measureText("\u2131").width;
        ctx.font = fSub(s); const w2 = ctx.measureText(p.n).width;
        ctx.font = fMain(s); const w3 = ctx.measureText(rest).width;
        return [w1, w2, w3];
      };
      let m = measure(base);
      const s = Math.min(26, base * (boxW - 12) / (m[0] + m[1] + m[2] + 1));
      m = measure(s);
      let x = left + (boxW - (m[0] + m[1] + m[2] + 1)) / 2;
      const yb = top + boxH / 2 + s * 0.36;
      ctx.fillStyle = "#000"; ctx.textAlign = "left"; ctx.textBaseline = "alphabetic";
      ctx.font = fF(s); ctx.fillText("\u2131", x, yb); x += m[0];
      ctx.font = fSub(s); ctx.fillText(p.n, x, yb + s * 0.22); x += m[1] + 1;
      ctx.font = fMain(s); ctx.fillText(rest, x, yb);
      ctx.restore();
    },
  };
  return {
    type: "scatter",
    data: { datasets },
    options: {
      animation: false,
      responsive: false,
      devicePixelRatio: 1,
      events: [],
      layout: { padding: { top: 14, right: isLeft ? 23 : 24, bottom: 0, left: 0 } },
      plugins: { legend: { display: false }, tooltip: { enabled: false } },
      scales: {
        x: {
          type: "linear", min: X_MIN, max: X_MAX,
          afterBuildTicks: (s) => { s.ticks = X_TICKS.map((v) => ({ value: v })); },
          afterFit: (s) => { s.height = 69; },
          grid: { display: false, drawTicks: false }, border: { display: false },
          ticks: { color: "#000", font: { family: SANS, size: TICK_SIZE }, padding: 5, maxRotation: 0, autoSkip: false, callback: fmtTick },
          title: { display: true, text: X_TITLE, color: "#000", font: { family: SANS, size: TITLE_SIZE }, padding: { top: 0, bottom: 17.5 } },
        },
        y: {
          type: "linear", min: Y_MIN, max: Y_MAX,
          afterBuildTicks: (s) => { s.ticks = Y_TICKS.map((v) => ({ value: v })); },
          afterFit: (s) => { s.width = isLeft ? 79 : 78; },
          grid: { display: false, drawTicks: false }, border: { display: false },
          ticks: { color: "#000", font: { family: SANS, size: TICK_SIZE }, padding: 4, autoSkip: false, callback: fmtTick },
          title: { display: true, text: Y_TITLE, color: "#000", font: { family: SANS, size: TITLE_SIZE }, padding: { top: 7.5, bottom: 0 } },
        },
      },
    },
    plugins: [overlay],
  };
}

function Panel({ p }) {
  const ref = useRef(null);
  useEffect(() => {
    const chart = new Chart(ref.current, buildConfig(p));
    return () => chart.destroy();
  }, [p]);
  return (
    <canvas ref={ref} width={CANVAS_W} height={CANVAS_H}
      style={{ position: "absolute", left: p.col * 605, top: ROW_TOPS[p.row], width: CANVAS_W, height: CANVAS_H }} />
  );
}

export default function App() {
  return (
    <div style={{ position: "absolute", left: 0, top: 0, width: 1210, height: 1425, background: "#fff" }}>
      {PANELS.map((p, i) => <Panel key={i} p={p} />)}
    </div>
  );
}
